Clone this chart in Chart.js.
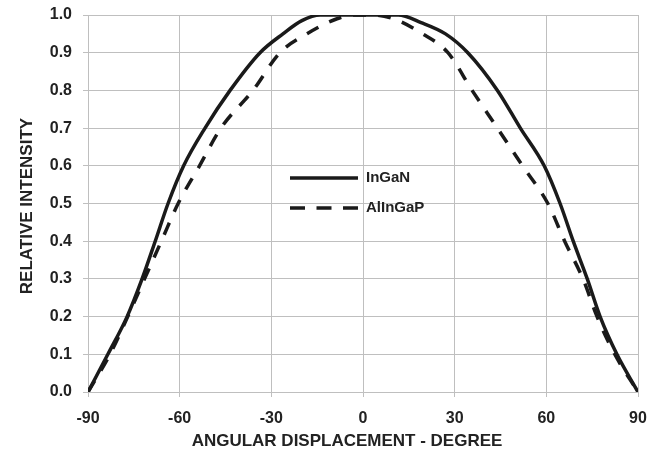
<!DOCTYPE html>
<html><head><meta charset="utf-8">
<script src="https://cdn.jsdelivr.net/npm/chart.js@4"></script>
<style>html,body{margin:0;padding:0;background:#fff}#wrap{width:648px;height:455px}</style>
</head><body><div id="wrap"><canvas id="c"></canvas></div>
<script>
const seriesNames = ["InGaN", "AlInGaP"];
const xTitle = "ANGULAR DISPLACEMENT - DEGREE";
const yTitle = "RELATIVE INTENSITY";
const xTicks = [-90, -60, -30, 0, 30, 60, 90];
const yTicks = [0, 0.1, 0.2, 0.3, 0.4, 0.5, 0.6, 0.7, 0.8, 0.9, 1.0];
const ingaAngles = [-90, -83.5, -77.2, -72.3, -68, -63.8, -58.7, -51.7, -43.5, -33.7, -26.2, -20, -14, 0, 11.5, 19, 27, 34.3, 44, 51.5, 59.3, 64.5, 68.8, 73.4, 77.6, 83.1, 90];
const ingaValues = [0, 0.1, 0.2, 0.3, 0.4, 0.5, 0.6, 0.7, 0.8, 0.9, 0.95, 0.985, 1.0, 1.0, 1.0, 0.98, 0.95, 0.9, 0.8, 0.7, 0.6, 0.5, 0.4, 0.3, 0.2, 0.1, 0];
const alAngles = [-90, -82.8, -77, -71.5, -66, -60.5, -53.5, -46.5, -36, -27.2, -18.4, -8.5, -3, 3, 10, 19.5, 27.8, 35.7, 44, 52.2, 60.5, 66, 72, 76.6, 82.4, 90];
const alValues = [0, 0.1, 0.2, 0.3, 0.4, 0.5, 0.6, 0.7, 0.8, 0.9, 0.95, 0.99, 1.0, 1.0, 0.99, 0.95, 0.9, 0.8, 0.7, 0.6, 0.5, 0.4, 0.3, 0.2, 0.1, 0];

const toPts = (xs, ys) => xs.map((x, i) => ({x, y: ys[i]}));
const FONT = "'Liberation Sans', Arial, sans-serif";
const INK = '#1a1a1a';

const overlayPlugin = {
  id: 'overlay',
  afterDatasetsDraw(chart) {
    const ctx = chart.ctx;
    const items = [
      {label: seriesNames[0], dash: [], y: 178},
      {label: seriesNames[1], dash: [15, 11.5], y: 208}
    ];
    ctx.save();
    items.forEach(it => {
      ctx.beginPath();
      ctx.setLineDash(it.dash);
      ctx.lineWidth = 3.5;
      ctx.strokeStyle = INK;
      ctx.moveTo(290, it.y);
      ctx.lineTo(358, it.y);
      ctx.stroke();
      ctx.setLineDash([]);
      ctx.fillStyle = '#222';
      ctx.font = 'bold 15px ' + FONT;
      ctx.textBaseline = 'middle';
      ctx.textAlign = 'left';
      ctx.fillText(it.label, 366, it.y);
    });
    ctx.restore();
  },
  afterDraw(chart) {
    const ctx = chart.ctx;
    ctx.save();
    ctx.fillStyle = '#222';
    ctx.font = 'bold 17px ' + FONT;
    ctx.textAlign = 'center';
    ctx.textBaseline = 'middle';
    ctx.fillText(xTitle, 347, 441);
    ctx.translate(27, 206);
    ctx.rotate(-Math.PI / 2);
    ctx.fillText(yTitle, 0, 0);
    ctx.restore();
  }
};

new Chart(document.getElementById('c'), {
  type: 'line',
  data: {
    datasets: [
      {label: seriesNames[0], data: toPts(ingaAngles, ingaValues), borderColor: INK, borderWidth: 3.5, pointRadius: 0, cubicInterpolationMode: 'monotone', fill: false},
      {label: seriesNames[1], data: toPts(alAngles, alValues), borderColor: INK, borderWidth: 3.5, borderDash: [13, 12], pointRadius: 0, cubicInterpolationMode: 'monotone', fill: false}
    ]
  },
  options: {
    responsive: true, maintainAspectRatio: false, animation: false,
    layout: {padding: {left: 0, right: 10, top: 15, bottom: 0}},
    plugins: {legend: {display: false}, tooltip: {enabled: false}},
    scales: {
      x: {
        type: 'linear', min: -90, max: 90,
        afterBuildTicks: s => { s.ticks = xTicks.map(v => ({value: v})); },
        afterFit: s => { s.height = 63; s.paddingLeft = 0; s.paddingRight = 0; },
        grid: {color: '#bfbfbf', lineWidth: 1, tickLength: 5},
        border: {color: '#bfbfbf'},
        ticks: {color: '#222', font: {family: FONT, size: 16, weight: 'bold'}, padding: 12, maxRotation: 0},
        title: {display: false}
      },
      y: {
        type: 'linear', min: 0, max: 1,
        afterBuildTicks: s => { s.ticks = yTicks.map(v => ({value: v})); },
        afterFit: s => { s.width = 88; s.paddingTop = 0; s.paddingBottom = 0; },
        grid: {color: '#bfbfbf', lineWidth: 1, tickLength: 5},
        border: {color: '#bfbfbf'},
        ticks: {color: '#222', font: {family: FONT, size: 16, weight: 'bold'}, padding: 11, callback: v => v.toFixed(1)},
        title: {display: false}
      }
    }
  },
  plugins: [overlayPlugin]
});
</script></body></html>
